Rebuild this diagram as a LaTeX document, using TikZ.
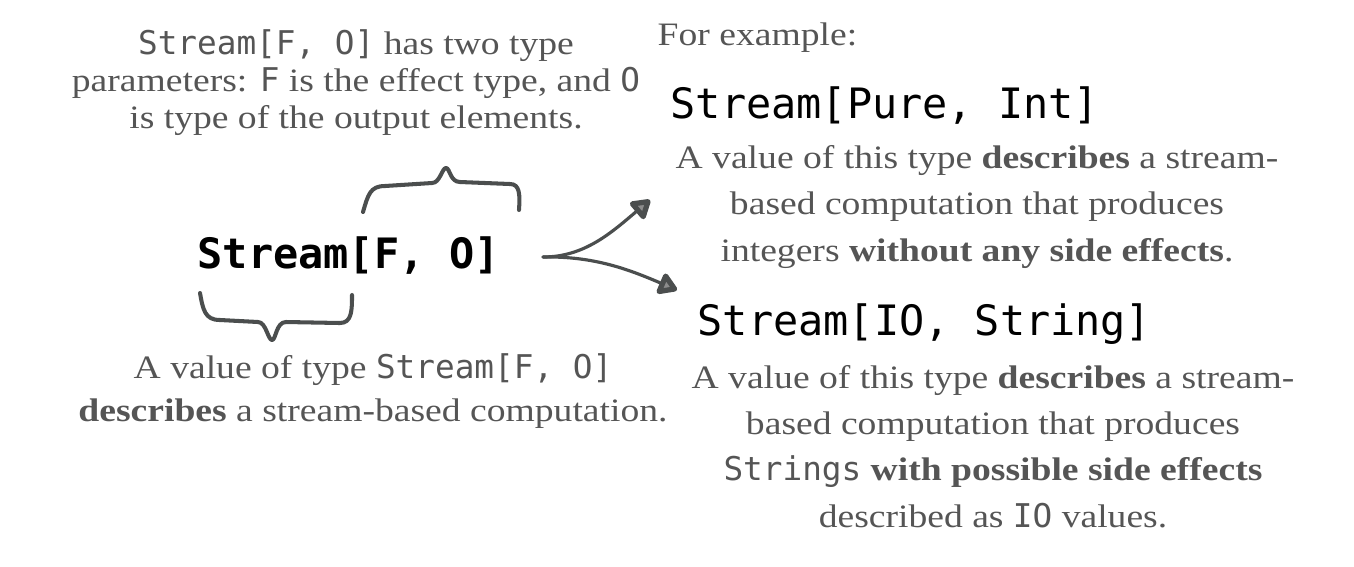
\documentclass[tikz,border=0pt]{standalone}
\usepackage{fontspec}
\setmainfont{Liberation Serif}[FakeStretch=1.15]
\setmonofont{DejaVu Sans Mono}
\usetikzlibrary{arrows.meta}

\definecolor{txtgray}{HTML}{555555}
\definecolor{inkgray}{HTML}{4B4E4E}
\definecolor{tipgray}{HTML}{8C8C8C}
\newcommand{\cd}[1]{\texttt{#1}}

\begin{document}
\begin{tikzpicture}[
  x=0.01cm, y=-0.01cm,
  note/.style={align=center, inner sep=0pt, anchor=base, text=txtgray},
  topnote/.style={note, font=\fontsize{9.3}{10.5}\selectfont},
  lownote/.style={note, font=\fontsize{9.3}{12.2}\selectfont},
  sidenote/.style={note, font=\fontsize{9.3}{13.1}\selectfont},
  code/.style={inner sep=0pt, anchor=base west, font=\fontsize{11.9}{14}\selectfont\ttfamily},
  brace/.style={draw=inkgray, line width=1.15pt, line cap=round, line join=round},
  line/.style={draw=inkgray, line width=0.9pt, line cap=round,
    -{Triangle[length=6pt, width=7pt, fill=tipgray, line width=1.6pt, round]}}
]
\useasboundingbox (0,0) rectangle (1354,566);

% ---------------------------------------------------------------------------
% Left: the type and its two braces
% (multi-line notes are placed by the baseline of their last line)
% ---------------------------------------------------------------------------
\node[code, font=\fontsize{11.9}{14}\selectfont\ttfamily\bfseries] (stream) at (197,268) {Stream[F, O]};

\node[topnote] (params) at (356,128) {\cd{Stream[F, O]} has two type\\
  parameters: \cd{F} is the effect type, and \cd{O}\\
  is type of the output elements.};

\node[lownote] (value) at (373,421) {A value of type \cd{Stream[F, O]}\\
  \textbf{describes} a stream-based computation.};

% brace over the type parameters
\draw[brace] (363,212) .. controls (368,195) and (370,186) .. (385,186) -- (432,183)
  .. controls (440,183) and (442,168) .. (446,168) .. controls (450,168) and (450,182) .. (460,182)
  -- (510,184) .. controls (520,184) and (520,195) .. (519,210);

% brace under the stream name
\draw[brace] (200,293) .. controls (203,310) and (205,320) .. (220,320) -- (258,322)
  .. controls (266,322) and (268,340) .. (272,340) .. controls (276,340) and (276,322) .. (286,322)
  -- (340,323) .. controls (352,323) and (352,310) .. (352,295);

% ---------------------------------------------------------------------------
% Right: two examples
% ---------------------------------------------------------------------------
\node[note, anchor=base west, font=\fontsize{9.3}{10.5}\selectfont] (forex) at (657,45) {For example:};

\node[code] (pure) at (670,118) {Stream[Pure, Int]};
\node[sidenote] (purenote) at (977,261) {A value of this type \textbf{describes} a stream-\\
  based computation that produces\\
  integers \textbf{without any side effects}.};

\node[code] (io) at (697,335) {Stream[IO, String]};
\node[sidenote] (ionote) at (993,527) {A value of this type \textbf{describes} a stream-\\
  based computation that produces\\
  \cd{Strings} \textbf{with possible side effects}\\
  described as \cd{IO} values.};

% ---------------------------------------------------------------------------
% Forking arrows
% ---------------------------------------------------------------------------
\coordinate (fork) at (543,257);
\coordinate (toPure) at (650,200);
\coordinate (toIO) at (677,290);
\draw[line] (fork) .. controls (585,257) and (612,232) .. (toPure);
\draw[line] (fork) .. controls (595,256) and (630,270) .. (toIO);

\end{tikzpicture}
\end{document}
